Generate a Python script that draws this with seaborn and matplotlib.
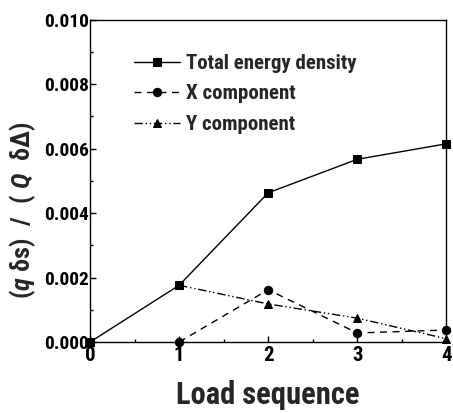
import matplotlib
matplotlib.use("Agg")
import matplotlib.pyplot as plt
from matplotlib.ticker import MultipleLocator, FormatStrFormatter
import seaborn as sns
import pandas as pd

# Load steps and normalised energy densities
load_total = [0, 1, 2, 3, 4]
total_energy = [0.0, 0.00176, 0.00463, 0.00567, 0.00615]

load_comp = [1, 2, 3, 4]
x_component = [0.0, 0.00162, 0.00028, 0.00037]
y_component = [0.00176, 0.00118, 0.00074, 0.00010]

labels = ["Total energy density", "X component", "Y component"]

sns.set_theme(style="ticks")
plt.rcParams["font.family"] = ["Roboto Condensed", "DejaVu Sans"]
plt.rcParams["font.weight"] = "bold"
plt.rcParams["mathtext.fontset"] = "custom"
plt.rcParams["mathtext.rm"] = "Roboto Condensed:bold"
plt.rcParams["mathtext.bf"] = "Roboto Condensed:bold"
plt.rcParams["mathtext.it"] = "Roboto Condensed:italic:bold"
plt.rcParams["mathtext.bfit"] = "Roboto Condensed:italic:bold"

fig = plt.figure(figsize=(4.53, 4.13), dpi=100)
ax = fig.add_axes([0.199, 0.172, 0.786, 0.780])

df_total = pd.DataFrame({"load": load_total, "val": total_energy})
df_x = pd.DataFrame({"load": load_comp, "val": x_component})
df_y = pd.DataFrame({"load": load_comp, "val": y_component})

sns.lineplot(data=df_total, x="load", y="val", ax=ax, color="black", lw=1.0,
             marker="s", markersize=6, markeredgecolor="black", linestyle="-",
             label=labels[0], clip_on=False, zorder=3)
sns.lineplot(data=df_x, x="load", y="val", ax=ax, color="black", lw=1.0,
             marker="o", markersize=6, markeredgecolor="black", linestyle=(0, (5, 4)),
             label=labels[1], clip_on=False, zorder=3)
sns.lineplot(data=df_y, x="load", y="val", ax=ax, color="black", lw=1.0,
             marker="^", markersize=6, markeredgecolor="black", linestyle=(0, (6, 2, 1, 2, 1, 2)),
             label=labels[2], clip_on=False, zorder=3)

ax.set_xlim(0, 4)
ax.set_ylim(0, 0.010)
ax.xaxis.set_major_locator(MultipleLocator(1))
ax.xaxis.set_minor_locator(MultipleLocator(0.5))
ax.yaxis.set_major_locator(MultipleLocator(0.002))
ax.yaxis.set_minor_locator(MultipleLocator(0.001))
ax.yaxis.set_major_formatter(FormatStrFormatter("%.3f"))

ax.tick_params(axis="both", which="major", direction="in", length=4, width=1,
               colors="black", pad=2)
ax.tick_params(axis="both", which="minor", direction="in", length=2.5, width=1,
               colors="black")
ax.tick_params(axis="x", labelsize=15, pad=3)
ax.tick_params(axis="y", labelsize=14, pad=1)
for lab in ax.get_xticklabels() + ax.get_yticklabels():
    lab.set_fontweight("bold")

for sp in ax.spines.values():
    sp.set_visible(True)
    sp.set_color("black")
    sp.set_linewidth(1.0)

ax.set_xlabel("Load sequence", fontsize=22, fontweight="bold", labelpad=11)
ax.set_ylabel(r"$(\mathbfit{q}\ \mathbf{\delta s})\ \ /\ \ (\ \mathbfit{Q}\ \ \mathbf{\delta\Delta})$",
              fontsize=19)
ax.yaxis.set_label_coords(-0.146, 0.41)

leg = ax.legend(loc="upper left", bbox_to_anchor=(0.10, 0.92), frameon=False,
                fontsize=15, handlelength=2.2, handletextpad=0.3,
                labelspacing=0.55, borderaxespad=0)
for t in leg.get_texts():
    t.set_fontweight("bold")

fig.savefig("out.png", dpi=100, facecolor="white")
